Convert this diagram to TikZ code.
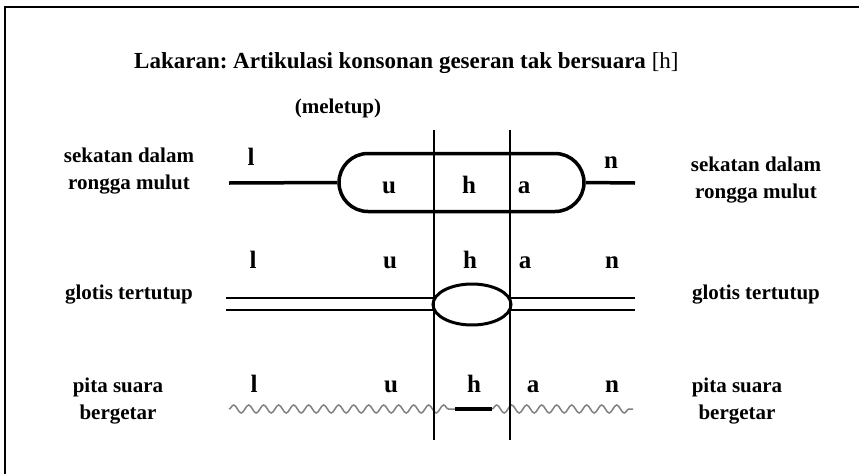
\documentclass[tikz,border=0pt]{standalone}
\usepackage{fontspec}
\setmainfont{Liberation Serif}
\usepackage{tikz}
\usetikzlibrary{shapes.geometric}
\usetikzlibrary{decorations.pathmorphing}
\frenchspacing

\tikzset{
  seg/.style={anchor=base, inner sep=0pt, font=\fontsize{25}{30}\selectfont\bfseries},
  lbl/.style={align=center, inner sep=0pt, font=\fontsize{21}{27}\selectfont\bfseries},
  tract/.style={line width=3.5pt},
  fold/.style={line width=2pt},
  vibrate/.style={draw=gray, line width=1.5pt, decorate,
    decoration={snake, segment length=15pt, amplitude=4pt}}
}

\begin{document}
\begin{tikzpicture}[x=1pt,y=-1pt]
  \useasboundingbox (0,0) rectangle (859,474);

  % Frame (left and top edge only)
  \draw [line width=2.5pt] (5,474) -- (5,7) -- (859,7);

  % Title
  \node [anchor=base west, inner sep=0pt, font=\fontsize{23}{27}\selectfont\bfseries] (title) at (134,68)
    {Lakaran: Artikulasi konsonan geseran tak bersuara {\mdseries[h]}};
  \node [lbl, anchor=base] (meletup) at (338,113) {(meletup)};

  % Segment boundaries of h
  \coordinate (v1t) at (434,130);
  \coordinate (v1b) at (434,440);
  \coordinate (v2t) at (510,130);
  \coordinate (v2b) at (510,440);

  % Row 1: oral closure
  \node [lbl, anchor=north] (oralL) at (129,148) {sekatan dalam\\rongga mulut};
  \node [lbl, anchor=north] (oralR) at (756,157) {sekatan dalam\\rongga mulut};
  \node [draw, tract, rounded corners=29pt, minimum width=245pt, minimum height=58pt,
         inner sep=0pt] (pill) at (461.5,182.5) {};
  \coordinate (oralA) at (229,183);
  \coordinate (oralB) at (635,183);
  \draw [tract] (oralA) -- (pill.west);
  \draw [tract] (pill.east) -- (oralB);
  \node [seg] (l1) at (251,165) {l};
  \node [seg] (u1) at (389,193) {u};
  \node [seg] (h1) at (469,193) {h};
  \node [seg] (a1) at (524,193) {a};
  \node [seg] (n1) at (611,168) {n};

  % Row 2: glottis
  \node [lbl, anchor=base] (glotL) at (129,299) {glotis tertutup};
  \node [lbl, anchor=base] (glotR) at (756,299) {glotis tertutup};
  \coordinate (gA) at (226,298);
  \coordinate (gB) at (635,298);
  \coordinate (gC) at (226,310);
  \coordinate (gD) at (635,310);
  \draw [fold] (gA) -- (gB);
  \draw [fold] (gC) -- (gD);
  \node [draw, ellipse, fill=white, line width=3pt, minimum width=78pt, minimum height=41pt,
         inner sep=0pt] (glottis) at (472,304.5) {};
  \node [seg] (l2) at (253,268) {l};
  \node [seg] (u2) at (390,268) {u};
  \node [seg] (h2) at (470,268) {h};
  \node [seg] (a2) at (525,268) {a};
  \node [seg] (n2) at (612,268) {n};

  % Row 3: vocal folds
  \node [lbl, anchor=north] (pitaL) at (118,378) {pita suara\\bergetar};
  \node [lbl, anchor=north] (pitaR) at (737,378) {pita suara\\bergetar};
  \coordinate (wA) at (229,409);
  \coordinate (wB) at (455,409);
  \coordinate (wC) at (492,409);
  \coordinate (wD) at (633,409);
  \draw [vibrate] (wA) -- (wB);
  \draw [vibrate] (wC) -- (wD);
  \draw [line width=4.5pt] (wB) -- (wC);
  \node [seg] (l3) at (254,392) {l};
  \node [seg] (u3) at (391,392) {u};
  \node [seg] (h3) at (474,392) {h};
  \node [seg] (a3) at (533,392) {a};
  \node [seg] (n3) at (612,392) {n};

  % Vertical lines
  \draw [line width=1.2pt] (v1t) -- (v1b);
  \draw [line width=1.2pt] (v2t) -- (v2b);
\end{tikzpicture}
\end{document}
